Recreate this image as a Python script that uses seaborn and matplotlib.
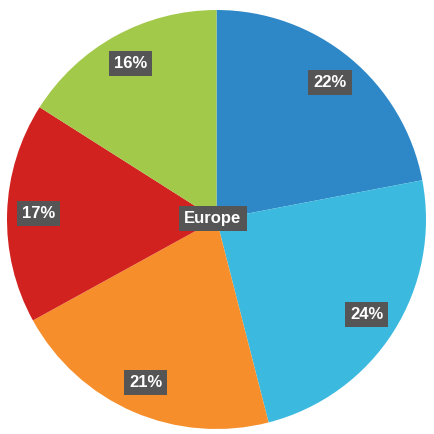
import numpy as np
import matplotlib
matplotlib.use("Agg")
import matplotlib.pyplot as plt
import seaborn as sns

# data
regions = ['A', 'B', 'C', 'D', 'E']
shares = [22, 24, 21, 17, 16]
colors = ['#2e88c8', '#3bb9de', '#f68f2b', '#d1221f', '#a3c94b']
center_label = 'Europe'

sns.set_theme(style='white')
plt.rcParams['font.family'] = ['Liberation Sans', 'DejaVu Sans']

fig = plt.figure(figsize=(4.34, 4.34), dpi=100)
ax = fig.add_axes([0, 0, 1, 1])

wedges, _ = ax.pie(shares, colors=colors, startangle=90, counterclock=False,
                   radius=1, wedgeprops=dict(linewidth=0))

box = dict(boxstyle='square,pad=0.3', fc='#555555', ec='none')
for w, s in zip(wedges, shares):
    ang = np.deg2rad((w.theta1 + w.theta2) / 2)
    r = 0.85
    ax.text(r * np.cos(ang), r * np.sin(ang), f'{s}%', color='white',
            fontsize=12, fontweight='bold', ha='center', va='center', bbox=box)

ax.text(-0.017, 0.007, center_label, color='white', fontsize=12,
        fontweight='bold', ha='center', va='center', bbox=box)

# pie centre at pixel (216.5, 219.5), radius 209.5 px
ax.set_xlim(-216.5 / 209.5, 217.5 / 209.5)
ax.set_ylim(-214.5 / 209.5, 219.5 / 209.5)
ax.set_aspect('auto')
ax.axis('off')

fig.savefig('out.png', dpi=100, facecolor='white')
